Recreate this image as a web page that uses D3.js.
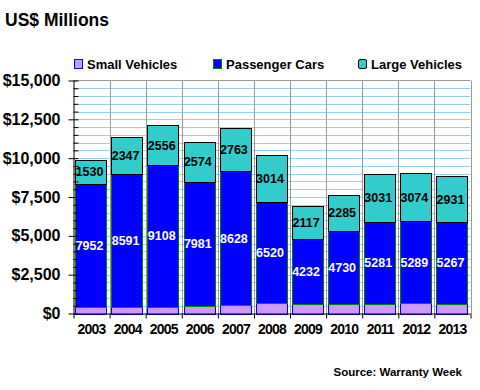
<!DOCTYPE html>
<html>
<head>
<meta charset="utf-8">
<script src="https://cdn.jsdelivr.net/npm/d3@7"></script>
<style>
  html, body { margin: 0; padding: 0; background: #fff; }
  svg { display: block; }
  text { font-family: "Liberation Sans", Arial, sans-serif; }
</style>
</head>
<body>
<svg id="chart" width="480" height="390"></svg>
<script>
const years = ["2003","2004","2005","2006","2007","2008","2009","2010","2011","2012","2013"];
const smallVehicles = [400, 410, 450, 490, 530, 680, 590, 610, 640, 660, 630];
const passengerCars = [7952, 8591, 9108, 7981, 8628, 6520, 4232, 4730, 5281, 5289, 5267];
const largeVehicles = [1530, 2347, 2556, 2574, 2763, 3014, 2117, 2285, 3031, 3074, 2931];
const seriesNames = ["Small Vehicles", "Passenger Cars", "Large Vehicles"];
const seriesFill = ["#cc99ff", "#0000ff", "#33cccc"];
const seriesStroke = ["#0000ff", "#008000", "#000000"];
const yMajorTicks = [0, 2500, 5000, 7500, 10000, 12500, 15000];

const svg = d3.select("#chart");
const pLeft = 73.5, pRight = 470.5, pTop = 80.5, pBottom = 313.5;

const x = d3.scaleBand().domain(years).range([pLeft, pRight]).paddingInner(0.1).paddingOuter(0.05);
const xb = d3.scaleLinear().domain([0, years.length]).range([pLeft, pRight]);
const y = d3.scaleLinear().domain([0, 15000]).range([pBottom, pTop]);

// title
svg.append("text").attr("x", 5).attr("y", 26).attr("font-size", 17.5).attr("font-weight", "bold")
  .attr("fill", "#000").text("US$ Millions");

// gridlines
const minor = d3.range(500, 15000, 500);
svg.append("g").selectAll("line").data(minor).join("line")
  .attr("x1", pLeft).attr("x2", pRight)
  .attr("y1", d => Math.round(y(d)) + 0.5).attr("y2", d => Math.round(y(d)) + 0.5)
  .attr("stroke", "#99ccff").attr("stroke-width", 1);
svg.append("g").selectAll("line").data(d3.range(1, years.length + 1)).join("line")
  .attr("x1", d => Math.round(xb(d)) + 0.5).attr("x2", d => Math.round(xb(d)) + 0.5)
  .attr("y1", pTop).attr("y2", pBottom)
  .attr("stroke", "#999999").attr("stroke-width", 1);
svg.append("line").attr("x1", pLeft).attr("x2", pRight).attr("y1", pTop).attr("y2", pTop)
  .attr("stroke", "#999999");

// stacked data
const rows = years.map((yr, i) => ({ year: yr, s: smallVehicles[i], p: passengerCars[i], l: largeVehicles[i] }));
const stack = d3.stack().keys(["s", "p", "l"])(rows);

const bars = svg.append("g");
stack.forEach((layer, k) => {
  bars.append("g").selectAll("rect").data(layer).join("rect")
    .attr("x", d => Math.round(x(d.data.year)) + 0.5)
    .attr("width", Math.round(x.bandwidth()) - 1)
    .attr("y", d => Math.round(y(d[1])) + 0.5)
    .attr("height", d => Math.round(y(d[0])) - Math.round(y(d[1])))
    .attr("fill", seriesFill[k])
    .attr("stroke", seriesStroke[k])
    .attr("stroke-width", 1);
});

// value labels
const labelLayers = [[1, "#ffffff"], [2, "#000000"]];
labelLayers.forEach(([k, col]) => {
  svg.append("g").selectAll("text").data(stack[k]).join("text")
    .attr("x", d => x(d.data.year) + x.bandwidth() / 2 - 2)
    .attr("y", d => (y(d[0]) + y(d[1])) / 2)
    .attr("dy", "0.36em")
    .attr("text-anchor", "middle")
    .attr("font-size", 12.5).attr("font-weight", "bold")
    .attr("fill", col)
    .text(d => d[1] - d[0]);
});

// y axis
const yAxisG = svg.append("g").attr("transform", `translate(${pLeft},0)`);
yAxisG.call(d3.axisLeft(y).tickValues(yMajorTicks).tickSize(5).tickPadding(8)
  .tickFormat(d => "$" + d3.format(",")(d)));
yAxisG.selectAll("text").attr("font-size", 16).attr("font-weight", "bold").attr("fill", "#000")
  .attr("font-family", "'Liberation Sans', Arial, sans-serif");
yAxisG.selectAll("line").attr("stroke", "#000");
yAxisG.select(".domain").attr("stroke", "#000").attr("d", `M0.5,${pTop}V${pBottom}`);
const yMinorG = svg.append("g").attr("transform", `translate(${pLeft},0)`);
yMinorG.call(d3.axisRight(y).tickValues(d3.range(0, 15001, 500)).tickSize(5).tickFormat(""));
yMinorG.select(".domain").remove();
yMinorG.selectAll("line").attr("stroke", "#000");

// x axis
const xTickG = svg.append("g").attr("transform", `translate(0,${pBottom})`);
xTickG.call(d3.axisBottom(xb).tickValues(d3.range(0, years.length + 1)).tickSize(5).tickFormat(""));
xTickG.selectAll("line").attr("stroke", "#000");
xTickG.select(".domain").attr("stroke", "#000").attr("d", `M${pLeft},0.5H${pRight}`);
const xLabG = svg.append("g").attr("transform", `translate(0,${pBottom})`);
xLabG.call(d3.axisBottom(x).tickSize(0).tickPadding(11));
xLabG.select(".domain").remove();
xLabG.selectAll("text").attr("font-size", 14).attr("font-weight", "bold").attr("fill", "#000")
  .attr("letter-spacing", "-0.8px")
  .attr("font-family", "'Liberation Sans', Arial, sans-serif");

// legend
const legendX = [74, 213, 358];
const legend = svg.append("g");
seriesNames.forEach((name, k) => {
  legend.append("rect").attr("x", legendX[k] + 0.5).attr("y", 59.5).attr("width", 8).attr("height", 9)
    .attr("rx", k === 2 ? 1.5 : 0)
    .attr("fill", seriesFill[k]).attr("stroke", k === 0 ? "#0000ff" : (k === 1 ? "#008000" : "#000"));
  legend.append("text").attr("x", legendX[k] + 13).attr("y", 68.5)
    .attr("font-size", 13).attr("font-weight", "bold").attr("fill", "#000")
    .text(name);
});

// source
svg.append("text").attr("x", 462).attr("y", 376).attr("text-anchor", "end")
  .attr("font-size", 11.5).attr("font-weight", "bold").attr("fill", "#000")
  .text("Source: Warranty Week");
</script>
</body>
</html>
